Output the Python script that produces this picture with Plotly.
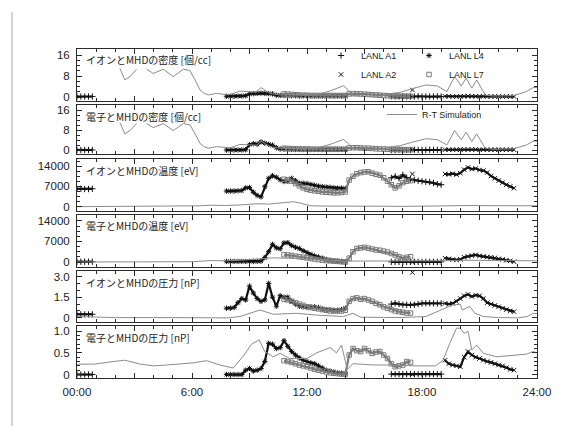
import plotly.graph_objects as go

# ---------------- data (hours since 00:00) ----------------
# LANL A1 (two segments)
hours_A1a = [0.0, 0.2, 0.4, 0.6, 0.8]
A1a_ni = [0.2, 0.2, 0.2, 0.2, 0.2]
A1a_ne = [0.1, 0.1, 0.1, 0.1, 0.1]
A1a_Ti = [6200, 6200, 6100, 6100, 6200]
A1a_Te = [100, 100, 100, 100, 100]
A1a_Pi = [0.26, 0.26, 0.25, 0.25, 0.26]
A1a_Pe = [0.0, 0.0, 0.0, 0.0, 0.0]

hours_A1b = [16.4, 16.6, 16.8, 17.0, 17.2, 17.4, 17.6, 17.8, 18.0, 18.2, 18.4, 18.6, 18.8, 19.0]
A1b_ni = [0.3, 0.2, 0.2, 0.3, 0.2, 0.2, 0.2, 0.3, 0.2, 0.2, 0.2, 0.2, 0.3, 0.2]
A1b_ne = [0.1, 0.1, 0.2, 0.1, 0.1, 0.1, 0.2, 0.1, 0.1, 0.1, 0.2, 0.1, 0.1, 0.1]
A1b_Ti = [10000, 10500, 9800, 11000, 10000, 9500, 9200, 9000, 8800, 8600, 8500, 8200, 7800, 7600]
A1b_Te = [50, 60, 50, 40, 50, 60, 50, 50, 40, 50, 60, 50, 50, 60]
A1b_Pi = [1.0, 1.06, 1.0, 0.95, 0.95, 0.94, 0.95, 1.0, 1.05, 1.06, 1.06, 1.05, 1.05, 1.05]
A1b_Pe = [0.01, 0.01, 0.01, 0.01, 0.01, 0.01, 0.01, 0.01, 0.01, 0.01, 0.01, 0.01, 0.01, 0.01]

# LANL A2
hours_A2 = [17.5, 19.2, 19.4, 19.6, 19.8, 20.0, 20.2, 20.4, 20.6, 20.8, 21.0, 21.2, 21.4, 21.6,
            21.8, 22.0, 22.2, 22.4, 22.6, 22.8]
A2_ni = [2.7, 0.3, 0.3, 0.2, 0.2, 0.3, 0.3, 0.4, 0.3, 0.3, 0.3, 0.3, 0.2, 0.2, 0.2, 0.2, 0.2, 0.2, 0.2, 0.2]
A2_ne = [0.2, 0.2, 0.2, 0.2, 0.2, 0.3, 0.3, 0.3, 0.3, 0.3, 0.2, 0.2, 0.2, 0.2, 0.2, 0.2, 0.2, 0.2, 0.2, 0.2]
A2_Ti = [11300, 11300, 11200, 11400, 11100, 11600, 12800, 13600, 13000, 13200, 12700, 12500, 11800,
         10600, 9800, 9000, 8300, 7600, 7000, 6400]
A2_Te = [0, 1300, 1100, 800, 700, 900, 1600, 1900, 2200, 2400, 2100, 1900, 1700, 1600, 1400, 1100,
         900, 600, 400, 100]
A2_Pi = [3.3, 1.05, 1.0, 1.05, 1.2, 1.4, 1.6, 1.7, 1.55, 1.65, 1.6, 1.4, 1.1, 1.0, 0.9, 0.8, 0.7,
         0.6, 0.5, 0.45]
A2_Pe = [0.0, 0.33, 0.25, 0.22, 0.2, 0.18, 0.4, 0.53, 0.45, 0.4, 0.37, 0.33, 0.3, 0.28, 0.25, 0.22,
         0.2, 0.16, 0.12, 0.1]

# LANL L4
hours_L4 = [7.8, 8.0, 8.2, 8.4, 8.6, 8.8, 9.0, 9.2, 9.4, 9.6, 9.8, 10.0, 10.2, 10.4, 10.6, 10.8,
            11.0, 11.2, 11.4, 11.6, 11.8, 12.0, 12.2, 12.4, 12.6, 12.8, 13.0, 13.2, 13.4, 13.6,
            13.8, 14.0]
L4_ni = [0.3, 0.3, 0.3, 0.4, 0.4, 0.5, 1.2, 1.3, 1.4, 1.5, 1.4, 1.3, 1.2, 0.7, 0.6, 0.6, 0.5, 0.5,
         0.5, 0.4, 0.4, 0.4, 0.4, 0.4, 0.4, 0.4, 0.4, 0.4, 0.4, 0.4, 0.4, 0.4]
L4_ne = [0.1, 0.1, 0.1, 0.1, 0.1, 0.2, 2.2, 2.6, 2.4, 3.3, 2.8, 2.4, 2.0, 1.0, 0.5, 0.4, 0.4, 0.3,
         0.3, 0.3, 0.3, 0.3, 0.3, 0.3, 0.3, 0.3, 0.3, 0.3, 0.3, 0.3, 0.3, 0.3]
L4_Ti = [5400, 5400, 5400, 5500, 5600, 6500, 6600, 5000, 3900, 3400, 6900, 9800, 10700, 10200, 9300,
         8700, 8800, 9800, 9000, 8100, 8100, 8000, 7700, 7400, 7100, 6900, 6800, 6700, 6500, 6400,
         6400, 6300]
L4_Te = [200, 200, 200, 200, 200, 200, 200, 200, 200, 300, 1500, 3500, 6000, 4800, 4500, 6500, 6600,
         5600, 5000, 4600, 3800, 3200, 2600, 2100, 1700, 1300, 900, 600, 400, 300, 200, 100]
L4_Pi = [0.7, 0.7, 0.75, 1.1, 1.4, 1.3, 2.3, 1.8, 1.4, 1.2, 1.3, 2.5, 1.5, 0.85, 1.6, 1.5, 1.5, 1.2,
         1.0, 0.85, 0.8, 0.8, 0.8, 0.8, 0.75, 0.65, 0.6, 0.6, 0.55, 0.55, 0.6, 0.7]
L4_Pe = [0.0, 0.0, 0.0, 0.0, 0.0, 0.1, 0.14, 0.08, 0.1, 0.14, 0.3, 0.72, 0.7, 0.6, 0.62, 0.78, 0.65,
         0.53, 0.45, 0.38, 0.33, 0.3, 0.27, 0.25, 0.2, 0.15, 0.1, 0.08, 0.06, 0.04, 0.03, 0.02]

# LANL L7
hours_L7 = [10.8, 11.0, 11.2, 11.4, 11.6, 11.8, 12.0, 12.2, 12.4, 12.6, 12.8, 13.0, 13.2, 13.4,
            13.6, 13.8, 14.0, 14.2, 14.4, 14.6, 14.8, 15.0, 15.2, 15.4, 15.6, 15.8, 16.0, 16.2,
            16.4, 16.6, 16.8, 17.0, 17.2, 17.4]
L7_ni = [1.2, 1.1, 1.0, 0.9, 0.8, 0.7, 0.7, 0.6, 0.6, 0.6, 0.6, 0.6, 0.6, 0.6, 0.6, 0.6, 0.6, 1.2,
         1.3, 1.3, 1.2, 1.1, 1.0, 0.9, 0.8, 0.7, 0.6, 0.5, 0.4, 0.4, 0.3, 0.3, 0.3, 0.3]
L7_ne = [0.8, 0.7, 0.6, 0.6, 0.5, 0.5, 0.5, 0.4, 0.4, 0.4, 0.4, 0.4, 0.4, 0.4, 0.4, 0.4, 0.4, 0.9,
         1.0, 1.0, 0.9, 0.8, 0.8, 0.7, 0.6, 0.5, 0.5, 0.4, 0.3, 0.3, 0.3, 0.2, 0.2, 0.2]
L7_Ti = [9500, 9300, 8800, 8000, 7200, 6500, 6000, 5700, 5500, 5300, 5100, 5000, 4900, 4800, 4800,
         4900, 5100, 9200, 10500, 11400, 11800, 12000, 12100, 11600, 11200, 10900, 10000, 8800,
         7600, 6500, 7200, 8300, 8800, 9000]
L7_Te = [2500, 2400, 2200, 2000, 1800, 1600, 1400, 1200, 1000, 800, 600, 500, 400, 300, 200, 100,
         0, 1300, 3500, 4600, 4800, 5000, 4700, 4400, 4100, 4000, 3700, 3400, 2900, 2400, 1800,
         1300, 1600, 1800]
L7_Pi = [1.35, 1.3, 1.2, 1.1, 1.0, 0.9, 0.8, 0.75, 0.7, 0.65, 0.6, 0.55, 0.5, 0.5, 0.5, 0.5, 0.55,
         1.2, 1.4, 1.45, 1.35, 1.4, 1.3, 1.2, 1.05, 0.95, 0.8, 0.7, 0.6, 0.5, 0.45, 0.4, 0.35, 0.35]
L7_Pe = [0.32, 0.3, 0.28, 0.25, 0.22, 0.2, 0.18, 0.15, 0.12, 0.1, 0.08, 0.06, 0.04, 0.03, 0.02,
         0.01, 0.01, 0.45, 0.6, 0.55, 0.53, 0.6, 0.55, 0.49, 0.52, 0.53, 0.45, 0.37, 0.25, 0.18,
         0.2, 0.22, 0.3, 0.28]

# R-T Simulation (MHD)
sim_n_hours = [2.24, 2.5, 2.76, 3.11, 3.35, 3.63, 3.98, 4.5, 5.02, 5.55, 5.89, 6.2, 6.42, 6.6, 6.85,
               7.28, 7.8, 8.0, 8.5, 9.0, 9.37, 9.6, 10.07, 10.6, 11.0, 11.5, 12.0, 12.5, 13.2, 13.9,
               14.15, 14.4, 15.0, 15.8, 16.5, 16.85, 17.5, 18.2, 18.8, 19.3, 19.7, 20.05, 20.3,
               20.6, 20.85, 21.3, 21.7, 22.2, 22.75, 23.45, 23.8, 24.0]
sim_n = [10.9, 6.5, 7.8, 10.6, None, 10.6, 9.0, 10.6, 7.8, 10.6, 10.1, 6.0, 2.7, 1.6, 0.8, 1.4, 0.9,
         1.0, 2.3, 2.0, 2.0, 3.6, 1.4, 0.8, 0.8, 0.8, 0.7, 0.9, 2.3, 4.3, 2.7, 0.5, 0.3, 0.3, 1.5,
         1.8, 3.2, 4.6, 4.2, 2.1, 7.8, 4.2, 7.2, 3.4, 6.5, 0.8, 0.4, 0.4, 0.5, 2.1, 3.6, 3.7]
sim_Ti_hours = [0.0, 6.0, 6.4, 7.0, 7.8, 8.5, 9.4, 10.0, 10.9, 11.3, 11.6, 12.2, 13.0, 14.0, 15.0,
                16.0, 17.0, 18.0, 18.8, 19.5, 20.5, 21.5, 22.5, 23.5, 24.0]
sim_Ti = [0, 50, 300, 500, 400, 600, 1000, 900, 1600, 1700, 1300, 300, 200, 250, 200, 150, 100, 200,
          400, 300, 400, 350, 250, 300, 300]
sim_Te_hours = [0.0, 6.0, 7.0, 7.8, 8.5, 9.5, 10.2, 11.0, 12.0, 13.0, 14.0, 15.0, 16.5, 18.0, 19.0,
                20.0, 21.0, 22.0, 23.0, 24.0]
sim_Te = [0, 100, 500, 400, 600, 1000, 1400, 1300, 1100, 800, 300, 300, 300, 300, 400, 600, 500,
          400, 400, 400]
sim_Pi_hours = [0.0, 0.9, 2.0, 4.0, 6.0, 7.9, 8.5, 9.0, 9.55, 10.24, 10.8, 11.46, 12.5, 13.9, 14.4,
                14.8, 16.0, 17.0, 18.2, 18.76, 19.2, 19.6, 20.0, 20.1, 20.5, 20.76, 21.2, 22.0,
                23.0, 23.5, 23.8, 24.0]
sim_Pi = [0.1, 0.07, 0.02, 0.02, 0.03, 0.0, 0.1, 0.35, 0.57, 0.26, 0.28, 0.33, 0.2, 0.1, 0.33, 0.05,
          0.03, 0.03, 0.1, 0.45, 0.7, 0.94, 0.98, 0.57, 0.82, 0.33, 0.1, 0.02, 0.0, 0.1, 0.33, 0.3]
sim_Pe_hours = [0.0, 0.9, 1.9, 2.5, 3.3, 4.0, 4.68, 5.37, 6.07, 6.76, 7.46, 8.15, 8.68, 9.11, 9.5,
                9.8, 10.24, 10.6, 11.1, 12.0, 12.5, 13.2, 13.37, 13.54, 13.8, 14.1, 14.4, 15.5,
                16.5, 17.5, 18.7, 19.1, 19.45, 19.8, 20.0, 20.2, 20.4, 20.6, 20.85, 21.2, 21.9,
                22.76, 23.45, 23.8, 24.0]
sim_Pe = [0.24, 0.24, 0.30, 0.33, 0.24, 0.2, 0.22, 0.25, 0.27, 0.32, 0.22, 0.15, 0.43, 0.7, 0.8,
          0.53, 0.41, 0.49, 0.37, 0.37, 0.5, 0.62, 0.55, 0.5, 0.68, 0.12, 0.25, 0.22, 0.22, 0.2,
          0.2, 0.33, 0.72, 1.07, 1.07, 0.95, 1.0, 0.57, 0.68, 0.49, 0.41, 0.45, 0.47, 0.53, 0.5]

panel_titles = ["イオンとMHDの密度 [個/cc]", "電子とMHDの密度 [個/cc]", "イオンとMHDの温度 [eV]",
                "電子とMHDの温度 [eV]", "イオンとMHDの圧力 [nP]", "電子とMHDの圧力 [nP]"]
x_tick_alias = {"0": "00:00", "3": "", "6": "6:00", "9": "", "12": "12:00", "15": "",
                "18": "18:00", "21": "", "24": "24:00"}

# ---------------- structure ----------------
satellites = [
    dict(name="LANL A1", x=hours_A1a + hours_A1b,
         y=[A1a_ni + A1b_ni, A1a_ne + A1b_ne, A1a_Ti + A1b_Ti, A1a_Te + A1b_Te,
            A1a_Pi + A1b_Pi, A1a_Pe + A1b_Pe],
         symbol="cross-thin", color="#111111", legend="legend"),
    dict(name="LANL A2", x=hours_A2, y=[A2_ni, A2_ne, A2_Ti, A2_Te, A2_Pi, A2_Pe],
         symbol="x-thin", color="#111111", legend="legend"),
    dict(name="LANL L4", x=hours_L4, y=[L4_ni, L4_ne, L4_Ti, L4_Te, L4_Pi, L4_Pe],
         symbol="asterisk-open", color="#111111", legend="legend3"),
    dict(name="LANL L7", x=hours_L7, y=[L7_ni, L7_ne, L7_Ti, L7_Te, L7_Pi, L7_Pe],
         symbol="square-open", color="#7a7a7a", legend="legend3"),
]
sims = [(sim_n_hours, sim_n), (sim_n_hours, sim_n), (sim_Ti_hours, sim_Ti),
        (sim_Te_hours, sim_Te), (sim_Pi_hours, sim_Pi), (sim_Pe_hours, sim_Pe)]


def with_breaks(xs, ys, gap=0.5):
    """Insert None where consecutive samples are far apart (separate passes)."""
    ox, oy = [], []
    for k, (a, b) in enumerate(zip(xs, ys)):
        if k and a - xs[k - 1] > gap:
            ox.append(None)
            oy.append(None)
        ox.append(a)
        oy.append(b)
    return ox, oy


# page layout: the browser page adds an 8 px body margin around the figure
PAGE = 8
W, H = 568 - 2 * PAGE, 434 - 2 * PAGE


def px(sx):
    return (sx - PAGE) / W


def py(sy):
    return 1 - (sy - PAGE) / H


panel_px = [(49, 101), (105, 154), (159, 211), (215, 267), (271, 322), (326, 378)]
yranges = [[-1.5, 18.3], [-1.5, 18.0], [-1500, 16500], [-1700, 16000], [-0.3, 3.4], [-0.08, 1.12]]
ydticks = [8, 8, 7000, 7000, 1.5, 0.5]
yminor = [2, 2, 1750, 1750, 0.5, 0.1]
yalias = [{}, {}, {}, {}, {"3": "3.0"}, {"1": "1.0"}]
X0, X1 = 77, 537

FONT = "Liberation Sans, Arial, Noto Sans CJK JP, sans-serif"
AXC = "#2a2a2a"

fig = go.Figure()
for i in range(6):
    xr = "x" if i == 0 else f"x{i+1}"
    yr = "y" if i == 0 else f"y{i+1}"
    for s in satellites:
        lx, ly = with_breaks(s["x"], s["y"][i])
        fig.add_trace(go.Scatter(
            x=lx, y=ly, mode="lines", xaxis=xr, yaxis=yr, showlegend=False,
            hoverinfo="skip", legendgroup=s["name"],
            line=dict(color=s["color"], width=2.2), connectgaps=False))
        fig.add_trace(go.Scatter(
            x=s["x"], y=s["y"][i], mode="markers", name=s["name"],
            xaxis=xr, yaxis=yr, legend=s["legend"], legendgroup=s["name"],
            showlegend=(i == 0),
            marker=dict(symbol=s["symbol"], size=4.5, color=s["color"],
                        line=dict(color=s["color"], width=1))))
    sx, sy = sims[i]
    fig.add_trace(go.Scatter(
        x=sx, y=sy, mode="lines", name="R-T Simulation", xaxis=xr, yaxis=yr,
        legend="legend2", legendgroup="sim", showlegend=(i == 1),
        line=dict(color="#8c8c8c", width=1), connectgaps=False))

layout = dict(
    width=W, height=H, margin=dict(l=0, r=0, t=0, b=0, autoexpand=False),
    paper_bgcolor="white", plot_bgcolor="white",
    font=dict(family=FONT, size=11.5, color="#222"),
    legend=dict(x=px(321), y=py(41), xanchor="left", yanchor="top",
                bgcolor="rgba(0,0,0,0)", font=dict(size=9, color="#222"), tracegroupgap=0),
    legend3=dict(x=px(409), y=py(41), xanchor="left", yanchor="top",
                 bgcolor="rgba(0,0,0,0)", font=dict(size=9, color="#222"), tracegroupgap=0),
    legend2=dict(x=px(382), y=py(100), xanchor="left", yanchor="top",
                 bgcolor="rgba(0,0,0,0)", font=dict(size=9, color="#222")),
    annotations=[], shapes=[],
)
for i in range(6):
    top, bot = panel_px[i]
    xk = "xaxis" if i == 0 else f"xaxis{i+1}"
    yk = "yaxis" if i == 0 else f"yaxis{i+1}"
    layout[xk] = dict(
        domain=[px(X0), px(X1)], anchor="y" if i == 0 else f"y{i+1}",
        range=[0, 24], tickmode="linear", tick0=0, dtick=3, labelalias=x_tick_alias,
        showticklabels=(i == 5), ticks="inside", ticklen=5, tickcolor=AXC,
        minor=dict(dtick=1, ticks="inside", ticklen=3, tickcolor=AXC),
        showline=True, linecolor=AXC, linewidth=1, mirror="ticks",
        showgrid=False, zeroline=False, ticklabelstandoff=3, automargin=False,
        tickfont=dict(size=11.5, color="#222"))
    layout[yk] = dict(
        domain=[py(bot), py(top)], anchor="x" if i == 0 else f"x{i+1}",
        range=yranges[i], tickmode="linear", tick0=0, dtick=ydticks[i], labelalias=yalias[i],
        tickformat="d" if i in (2, 3) else "",
        ticks="inside", ticklen=5, tickcolor=AXC,
        minor=dict(dtick=yminor[i], ticks="inside", ticklen=3, tickcolor=AXC),
        showline=True, linecolor=AXC, linewidth=1, mirror="ticks",
        showgrid=False, zeroline=False, ticklabelstandoff=4, automargin=False,
        tickfont=dict(size=11.5, color="#222"))
    layout["annotations"].append(dict(
        text=panel_titles[i], xref="paper", yref="paper", x=px(84), y=py(top + 11),
        xanchor="left", yanchor="middle", showarrow=False,
        font=dict(family="Noto Sans CJK JP, Liberation Sans, sans-serif", size=10, color="#222")))

layout["shapes"].append(dict(type="line", xref="paper", yref="paper", x0=px(12), x1=px(12),
                             y0=0, y1=py(12), line=dict(color="#c4c4c4", width=1.5)))

fig.update_layout(**layout)
fig.write_html("out.html")
